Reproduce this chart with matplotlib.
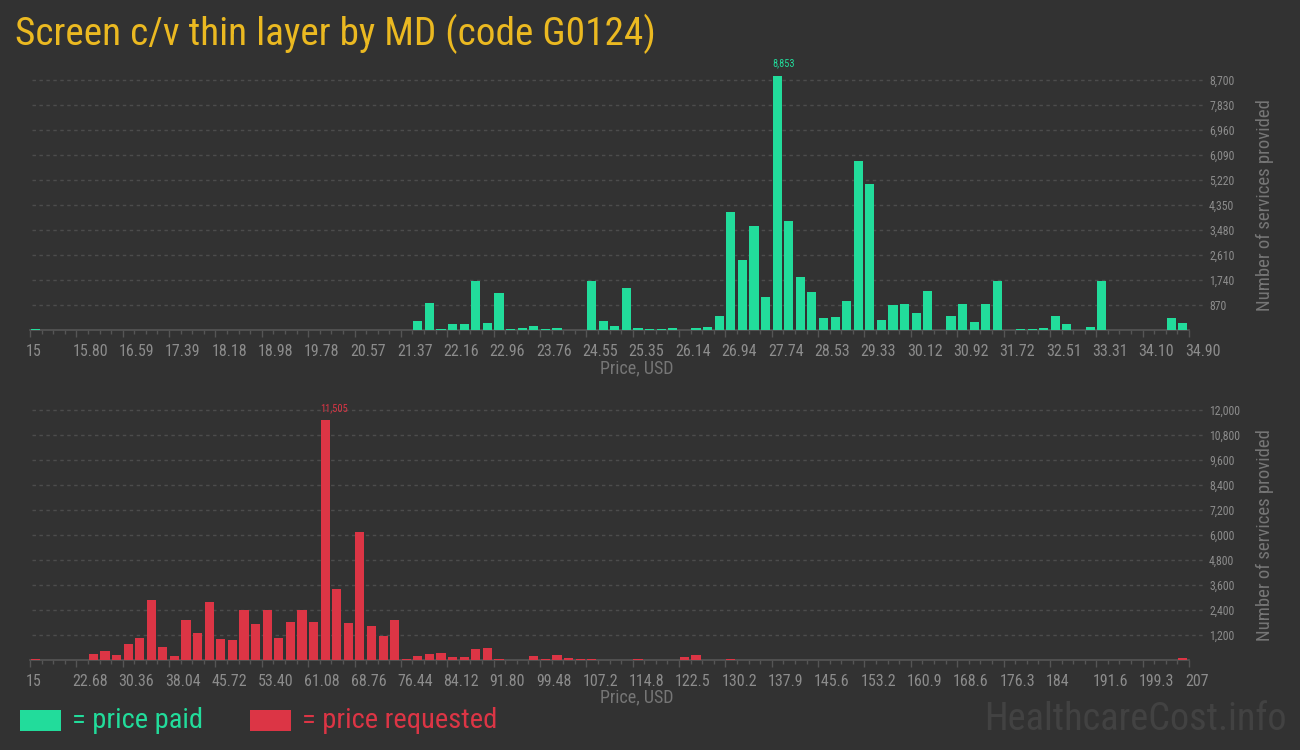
import numpy as np
import matplotlib
matplotlib.use("Agg")
import matplotlib.pyplot as plt
import matplotlib.transforms as mtransforms
from matplotlib.patches import Rectangle

# ---------------- data ----------------
title = "Screen c/v thin layer by MD (code G0124)"

paid_range = (15.0, 34.90)
paid_counts = [25, 0, 0, 0, 0, 0, 0, 0, 0, 0,
               0, 0, 0, 0, 0, 0, 0, 0, 0, 0,
               0, 0, 0, 0, 0, 0, 0, 0, 0, 0,
               0, 0, 0, 302, 928, 25, 197, 197, 1705, 232,
               1276, 25, 58, 128, 25, 58, 0, 0, 1705, 302,
               128, 1450, 58, 25, 25, 58, 0, 58, 93, 476,
               4095, 2424, 3608, 1137, 8853, 3782, 1833, 1311, 406, 441,
               998, 5870, 5069, 336, 858, 893, 580, 1346, 0, 476,
               893, 267, 893, 1694, 0, 25, 25, 58, 476, 197,
               0, 93, 1694, 0, 0, 0, 0, 0, 406, 232]
paid_xticklabels = ["15", "15.80", "16.59", "17.39", "18.18", "18.98", "19.78", "20.57",
                    "21.37", "22.16", "22.96", "23.76", "24.55", "25.35", "26.14", "26.94",
                    "27.74", "28.53", "29.33", "30.12", "30.92", "31.72", "32.51", "33.31",
                    "34.10", "34.90"]
paid_yticks = [870, 1740, 2610, 3480, 4350, 5220, 6090, 6960, 7830, 8700]

req_range = (15.0, 207.0)
req_counts = [32, 0, 0, 0, 0, 304, 448, 256, 784, 1072,
              2896, 640, 208, 1936, 1312, 2800, 1024, 976, 2416, 1744,
              2416, 1072, 1840, 2416, 1840, 11505, 3424, 1792, 6160, 1648,
              1168, 1936, 64, 208, 304, 352, 160, 160, 544, 592,
              64, 16, 0, 208, 64, 256, 112, 64, 64, 0,
              0, 0, 64, 0, 16, 0, 160, 256, 0, 16,
              64, 0, 0, 0, 0, 0, 0, 0, 0, 16,
              0, 0, 0, 0, 0, 0, 0, 0, 16, 0,
              0, 16, 0, 0, 0, 0, 0, 0, 0, 0,
              0, 0, 0, 0, 0, 0, 0, 0, 16, 112]
req_xticklabels = ["15", "22.68", "30.36", "38.04", "45.72", "53.40", "61.08", "68.76",
                   "76.44", "84.12", "91.80", "99.48", "107.2", "114.8", "122.5", "130.2",
                   "137.9", "145.6", "153.2", "160.9", "168.6", "176.3", "184", "191.6",
                   "199.3", "207"]
req_yticks = [1200, 2400, 3600, 4800, 6000, 7200, 8400, 9600, 10800, 12000]

legend_labels = ["= price paid", "= price requested"]

# ---------------- style ----------------
BG = "#323232"
GREEN = "#22dc9b"
RED = "#dc3545"
GOLD = "#ebb921"
TICK = "#8c8c8c"
AXLAB = "#767676"
GRID = "#4c4c4c"
SPINE = "#555555"
FAM = ["Roboto Condensed", "Liberation Sans Narrow", "Roboto", "DejaVu Sans"]
plt.rcParams["font.family"] = FAM

W, H = 1300, 750
fig = plt.figure(figsize=(W / 100, H / 100), dpi=100, facecolor=BG)


def px_axes(x0, y0, x1, y1):
    return fig.add_axes([x0 / W, 1 - y1 / H, (x1 - x0) / W, (y1 - y0) / H])


def draw_panel(ax, counts, rng, xticklabels, yticks, color, ymax):
    counts = np.asarray(counts, dtype=float)
    n = len(counts)
    edges = np.linspace(rng[0], rng[1], n + 1)
    bw = edges[1] - edges[0]
    ax.set_facecolor(BG)
    ax.bar(edges[:-1] + 0.07 * bw, counts, width=0.79 * bw, align="edge",
           color=color, linewidth=0, zorder=3, clip_on=False)
    ax.set_xlim(rng[0], rng[1])
    ax.set_ylim(0, ymax)
    # gridlines extend a little past the plot on the right
    trans = mtransforms.blended_transform_factory(ax.transAxes, ax.transData)
    for yv in yticks:
        ax.plot([0.002, 1.012], [yv, yv], transform=trans, clip_on=False,
                color=GRID, lw=1.0, ls=(0, (2.5, 2.5)), zorder=1)
    for s in ["top", "left", "right"]:
        ax.spines[s].set_visible(False)
    ax.spines["bottom"].set_color(SPINE)
    ax.spines["bottom"].set_linewidth(1.2)
    ax.spines["bottom"].set_zorder(2)
    major = edges[::4]
    ax.set_xticks(major)
    ax.set_xticklabels(xticklabels)
    ax.set_xticks(edges, minor=True)
    ax.tick_params(axis="x", which="major", length=5, width=1, color=SPINE,
                   labelsize=11.5, labelcolor=TICK, pad=5)
    ax.tick_params(axis="x", which="minor", length=3, width=1, color=SPINE)
    off = mtransforms.ScaledTranslation(-4 / 100, 0, fig.dpi_scale_trans)
    for lab in ax.get_xticklabels():
        lab.set_horizontalalignment("left")
        lab.set_transform(lab.get_transform() + off)
    ax.yaxis.tick_right()
    ax.set_yticks(yticks)
    ax.set_yticklabels([f"{v:,}" for v in yticks])
    ax.tick_params(axis="y", length=0, labelsize=8.5, labelcolor=TICK, pad=14.5)
    ax.text(1.0656, 0.5, "Number of services provided", transform=ax.transAxes,
            rotation=90, ha="center", va="center", fontsize=13.5, color=AXLAB)
    # peak label
    i = int(np.argmax(counts))
    ax.annotate(f"{int(counts[i]):,}", xy=(edges[i] + 0.07 * bw, counts[i]),
                xytext=(0, 5), textcoords="offset points", ha="left", va="bottom",
                fontsize=7.5, color=color, annotation_clip=False)


ax1 = px_axes(30, 80, 1189, 330)
draw_panel(ax1, paid_counts, paid_range, paid_xticklabels, paid_yticks, GREEN, 8700)
ax2 = px_axes(30, 410, 1189, 660)
draw_panel(ax2, req_counts, req_range, req_xticklabels, req_yticks, RED, 12000)

fig.text(637 / W, 1 - 368 / H, "Price, USD", ha="center", va="center",
         fontsize=13, color=AXLAB)
fig.text(637 / W, 1 - 697 / H, "Price, USD", ha="center", va="center",
         fontsize=13, color=AXLAB)

# title
fig.text(15 / W, 1 - 34 / H, title, ha="left", va="center", fontsize=28.3, color=GOLD)

# legend
fig.patches.append(Rectangle((20 / W, 1 - 731 / H), 41 / W, 21 / H,
                             transform=fig.transFigure, color=GREEN, linewidth=0))
fig.text(72 / W, 1 - 720 / H, legend_labels[0], ha="left", va="center",
         fontsize=20.5, color=GREEN)
fig.patches.append(Rectangle((250 / W, 1 - 731 / H), 41 / W, 21 / H,
                             transform=fig.transFigure, color=RED, linewidth=0))
fig.text(302 / W, 1 - 720 / H, legend_labels[1], ha="left", va="center",
         fontsize=20.5, color=RED)

# watermark
fig.text(1287 / W, 1 - 720 / H, "HealthcareCost.info", ha="right", va="center",
         fontsize=27.5, color="#424242")

fig.savefig("out.png", dpi=100, facecolor=BG)
